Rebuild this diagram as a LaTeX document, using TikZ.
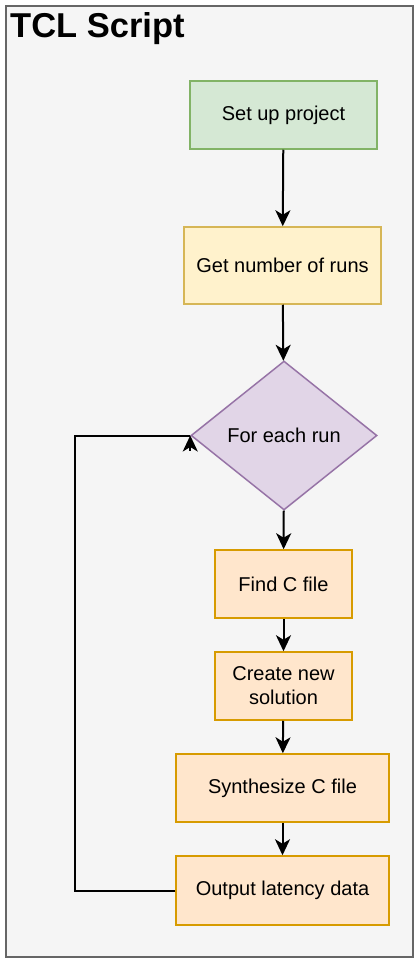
\documentclass[tikz,border=0pt]{standalone}
\usepackage{fontspec}
\setmainfont{Liberation Sans}
\usetikzlibrary{shapes.geometric,arrows.meta}
\definecolor{outerfill}{HTML}{F5F5F5}
\definecolor{outerline}{HTML}{666666}
\definecolor{gfill}{HTML}{D5E8D4}
\definecolor{gline}{HTML}{82B366}
\definecolor{yfill}{HTML}{FFF2CC}
\definecolor{yline}{HTML}{D6B656}
\definecolor{pfill}{HTML}{E1D5E7}
\definecolor{pline}{HTML}{9673A6}
\definecolor{ofill}{HTML}{FFE6CC}
\definecolor{oline}{HTML}{D79B00}
\tikzset{
  box/.style={rectangle, line width=1.5pt, inner sep=0pt, align=center,
    font=\fontsize{20}{24}\selectfont},
  greenbox/.style={box, fill=gfill, draw=gline},
  yellowbox/.style={box, fill=yfill, draw=yline},
  orangebox/.style={box, fill=ofill, draw=oline},
  decision/.style={diamond, aspect=1.25, line width=1.5pt, inner sep=0pt,
    fill=pfill, draw=pline, font=\fontsize{20}{24}\selectfont},
  flow/.style={line width=2pt, -{Stealth[length=16pt,width=15pt,inset=4.5pt]}},
  plainline/.style={line width=2pt},
}
\begin{document}
\begin{tikzpicture}[x=1pt,y=-1pt]
\useasboundingbox (0,0) rectangle (416,960);
\node[draw=outerline, fill=outerfill, line width=2pt, rectangle, inner sep=0pt,
  minimum width=407pt, minimum height=951pt] (frame) at (209.5,481.5) {};
\node[anchor=base west, inner sep=0pt, font=\bfseries\fontsize{34.5}{38}\selectfont] (title) at (10,38) {TCL Script};

\node[greenbox, minimum width=187pt, minimum height=68pt] (setup) at (283.5,115) {Set up project};
\node[yellowbox, minimum width=197pt, minimum height=77pt] (runs) at (282.5,265.5) {Get number of runs};
\node[decision, minimum width=186pt, minimum height=149pt] (dia) at (284,435.5) {For each run};
\node[orangebox, minimum width=137pt, minimum height=68pt] (find) at (283.5,584) {Find C file};
\node[orangebox, minimum width=137pt, minimum height=68pt] (create) at (283.5,686) {Create new\\solution};
\node[orangebox, minimum width=213pt, minimum height=68pt] (synth) at (282.5,788) {Synthesize C file};
\node[orangebox, minimum width=213pt, minimum height=69pt] (out) at (282.5,890.5) {Output latency data};

\coordinate (loopx) at (75,0);

\draw[flow] (setup) -- (runs);
\draw[flow] (runs) -- (dia);
\draw[flow] (dia) -- (find);
\draw[flow] (find) -- (create);
\draw[flow] (create) -- (synth);
\draw[flow] (synth) -- (out);
\draw[plainline] (out.west) -- (out.west -| loopx) |- (dia.west);
\draw[flow] ([yshift=-15pt]dia.west) -- (dia.west);
\end{tikzpicture}
\end{document}
